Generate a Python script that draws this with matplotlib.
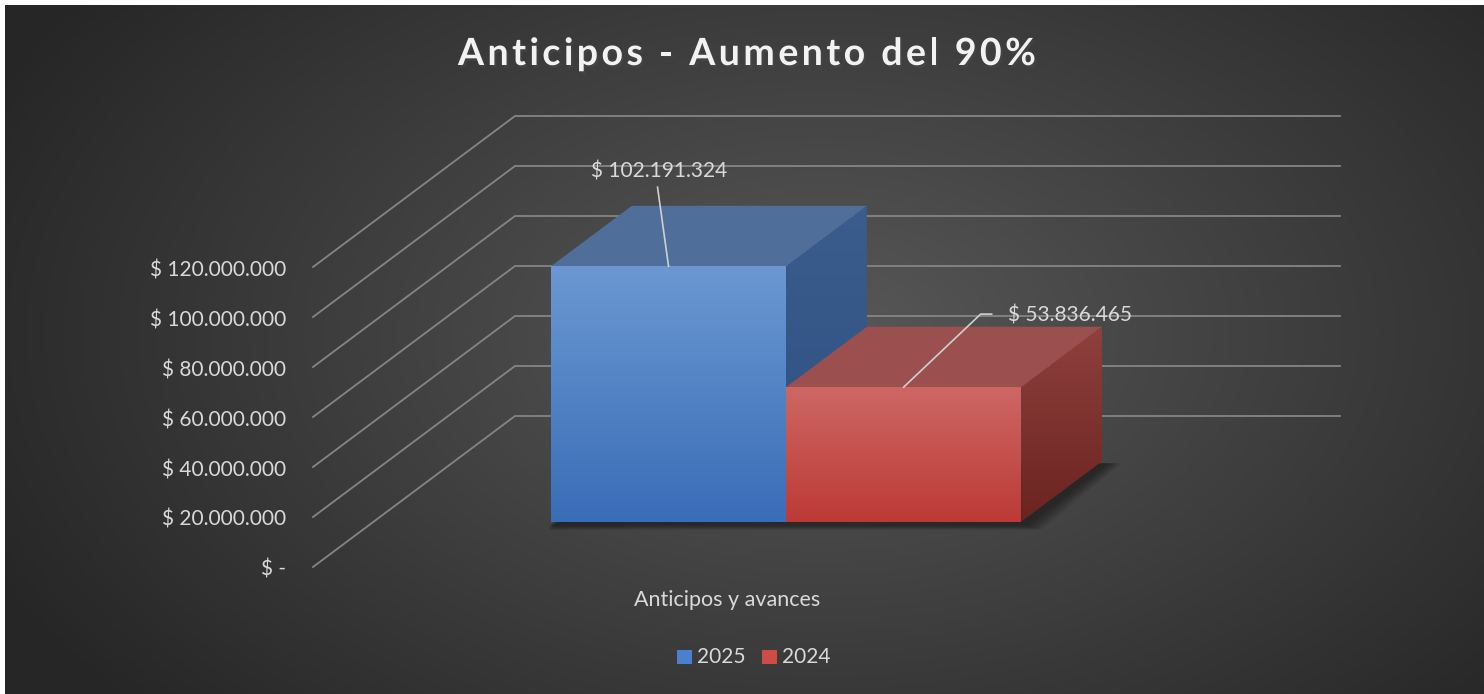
import numpy as np
import matplotlib.pyplot as plt
from matplotlib.patches import Polygon, Rectangle
from matplotlib import patheffects as pe

plt.rcParams['font.family'] = ['Lato', 'DejaVu Sans']

title = "Anticipos - Aumento del 90%"
category = "Anticipos y avances"
years = ["2025", "2024"]
values = [102191324, 53836465]
value_labels = ["$ 102.191.324", "$ 53.836.465"]
ticks = [0, 20000000, 40000000, 60000000, 80000000, 100000000, 120000000]
tick_labels = ["$ -", "$ 20.000.000", "$ 40.000.000", "$ 60.000.000",
               "$ 80.000.000", "$ 100.000.000", "$ 120.000.000"]

# colours: front top, front bottom, top face, side top, side bottom, legend
colors = [
    ("#6b98d2", "#3a6db7", "#4f6e9a", "#3a5d8d", "#2d4f82", "#4a80cc"),
    ("#cd6764", "#bc3a36", "#9b4f4e", "#8e403d", "#6b2420", "#cf4b48"),
]

W, H = 1484, 694
fig = plt.figure(figsize=(W / 100, H / 100), dpi=100, facecolor="white")
ax = fig.add_axes([0, 0, 1, 1])

# background radial gradient
yy, xx = np.mgrid[0:H, 0:W]
r = np.sqrt(((xx - 820) / 900.0) ** 2 + ((yy - 330) / 560.0) ** 2)
g = np.clip(0.345 - 0.19 * r, 0.15, 1)
ax.imshow(np.dstack([g, g, g]), extent=(5, W, H, 5), zorder=0, interpolation="bilinear")
ax.set_xlim(0, W)
ax.set_ylim(H, 0)
ax.axis("off")

# fake 3d projection
X0, Y0 = 313, 567
WID = 825
DX, DY = 202, -151
K = 300.0 / 120000000


def proj(u, v, d):
    return X0 + u * WID + d * DX, Y0 - v * K + d * DY


# gridlines: side wall + back wall
for t in ticks:
    a = proj(0, t, 0)
    b = proj(0, t, 1)
    c = proj(1, t, 1)
    ax.plot([a[0], b[0], c[0]], [a[1], b[1], c[1]], color="#858585", lw=1.3, zorder=1)

for t, lab in zip(ticks, tick_labels):
    x, y = proj(0, t, 0)
    ax.text(x - 27, y + 3, lab, ha="right", va="center", fontsize=15, color="#d9d9d9", zorder=5)

bw = 0.285
start = 0.5 - bw * len(values) / 2
d1, d2 = 0.3, 0.7


def gradient_fill(poly, c1, c2, z):
    xs = [p[0] for p in poly]
    ys = [p[1] for p in poly]
    patch = Polygon(poly, closed=True, facecolor="none", edgecolor="none", zorder=z)
    ax.add_patch(patch)
    grad = np.linspace(0, 1, 256)[:, None]
    a = np.array(plt.matplotlib.colors.to_rgb(c1))
    b = np.array(plt.matplotlib.colors.to_rgb(c2))
    img = a[None, None, :] * (1 - grad[..., None]) + b[None, None, :] * grad[..., None]
    im = ax.imshow(img, extent=(min(xs), max(xs), max(ys), min(ys)), aspect="auto",
                   zorder=z, interpolation="bilinear")
    im.set_clip_path(patch)


# floor shadow
u_a, u_b = start, start + bw * len(values)
for i in range(8):
    e = i * 2.0
    shp = [proj(u_a, 0, d1), proj(u_b, 0, d1), proj(u_b, 0, d2), proj(u_a, 0, d2)]
    shp = [(shp[0][0] - 2, shp[0][1] + 4 + e * 0.3), (shp[1][0] + 6 + e, shp[1][1] + 4 + e * 0.3),
           (shp[2][0] + 6 + e, shp[2][1] + 2), (shp[3][0], shp[3][1])]
    ax.add_patch(Polygon(shp, closed=True, facecolor="black", edgecolor="none",
                         alpha=0.06, zorder=2))

for i, v in enumerate(values):
    u0 = start + i * bw
    u1 = u0 + bw
    cf1, cf2, ctop, cs1, cs2, _ = colors[i]
    z = 3 + i
    front = [proj(u0, 0, d1), proj(u1, 0, d1), proj(u1, v, d1), proj(u0, v, d1)]
    top = [proj(u0, v, d1), proj(u1, v, d1), proj(u1, v, d2), proj(u0, v, d2)]
    side = [proj(u1, 0, d1), proj(u1, 0, d2), proj(u1, v, d2), proj(u1, v, d1)]
    gradient_fill(side, cs1, cs2, z)
    ax.add_patch(Polygon(top, closed=True, facecolor=ctop, edgecolor="none", zorder=z))
    gradient_fill(front, cf1, cf2, z + 0.1)

ax.set_xlim(0, W)
ax.set_ylim(H, 0)

# data labels with leader lines
label_offsets = [(-9, -95), (104, -72)]
for i, v in enumerate(values):
    um = start + (i + 0.5) * bw
    ax_, ay_ = proj(um, v, d1)
    ox, oy = label_offsets[i]
    if i == 0:
        ax.plot([ax_, ax_ - 11], [ay_, ay_ - 79], color="#d0d0d0", lw=1.2, zorder=6)
        ax.text(ax_ + ox, ay_ + oy, value_labels[i], ha="center", va="center",
                fontsize=15, color="#d9d9d9", zorder=6)
    else:
        ax.plot([ax_, ax_ + 77, ax_ + 88], [ay_, ay_ - 73, ay_ - 73], color="#d0d0d0",
                lw=1.2, zorder=6)
        ax.text(ax_ + ox, ay_ + oy, value_labels[i], ha="left", va="center",
                fontsize=15, color="#d9d9d9", zorder=6)

# category label
cx, cy = proj(0.5, 0, 0)
ax.text(cx + 2, 600, category, ha="center", va="center", fontsize=15.5, color="#d9d9d9")

# legend
lx = [677, 762]
for i, yr in enumerate(years):
    ax.add_patch(Rectangle((lx[i], 650), 15, 14, facecolor=colors[i][5], edgecolor="none"))
    ax.text(lx[i] + 20, 657, yr, ha="left", va="center", fontsize=15, color="#d9d9d9")

# title, with letter spacing
renderer = fig.canvas.get_renderer()
tkw = dict(fontsize=27, fontweight="bold", color="#f2f2f2", va="center", ha="left")


def text_w(s):
    t = ax.text(0, 0, s, **tkw)
    w = t.get_window_extent(renderer).width
    t.remove()
    return w


full_w = text_w(title)
target_w = 578
sp = (target_w - full_w) / (len(title) - 1)
left = 747 - target_w / 2
shadow = [pe.SimplePatchShadow(offset=(1.5, -2), alpha=0.5), pe.Normal()]
for k, ch in enumerate(title):
    if ch == " ":
        continue
    pos = text_w(title[:k + 1]) - text_w(ch)
    ax.text(left + pos + k * sp, 54, ch, path_effects=shadow, **tkw)

fig.savefig("out.png", dpi=100, facecolor="white")
